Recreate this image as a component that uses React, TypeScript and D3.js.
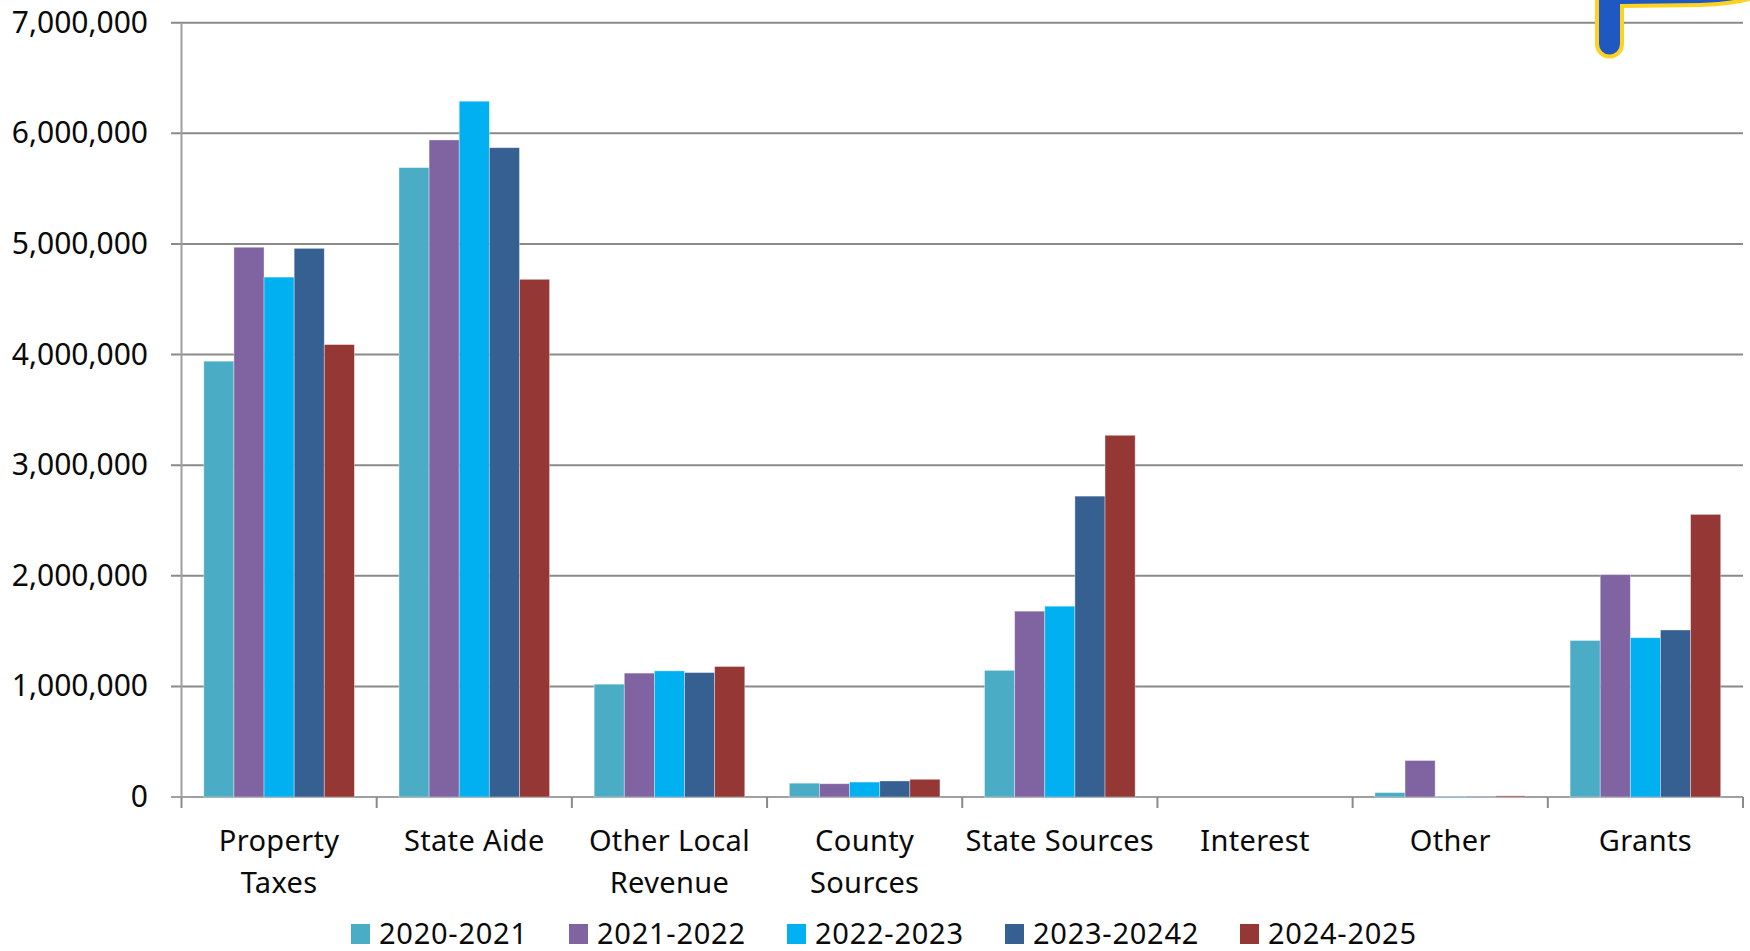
import React from "react";
import * as d3 from "d3";

const categories = ["Property Taxes", "State Aide", "Other Local Revenue", "County Sources", "State Sources", "Interest", "Other", "Grants"];
const categoryLines = [["Property", "Taxes"], ["State Aide"], ["Other Local", "Revenue"], ["County", "Sources"], ["State Sources"], ["Interest"], ["Other"], ["Grants"]];
const seriesNames = ["2020-2021", "2021-2022", "2022-2023", "2023-20242", "2024-2025"];
const seriesColors = ["#4BACC6", "#8064A2", "#00B0F0", "#366092", "#953735"];
const fy2021 = [3940000, 5690000, 1020000, 125000, 1145000, 0, 40000, 1415000];
const fy2122 = [4970000, 5940000, 1120000, 120000, 1680000, 0, 330000, 2010000];
const fy2223 = [4700000, 6290000, 1140000, 135000, 1725000, 0, 5000, 1440000];
const fy2324 = [4960000, 5870000, 1125000, 145000, 2720000, 0, 5000, 1510000];
const fy2425 = [4090000, 4680000, 1180000, 160000, 3270000, 0, 10000, 2555000];
const seriesValues = [fy2021, fy2122, fy2223, fy2324, fy2425];
const yTicks = [0, 1000000, 2000000, 3000000, 4000000, 5000000, 6000000, 7000000];
const legendX = [351, 569, 787, 1005, 1240];

const font = "'Noto Sans', sans-serif";

export default function App() {
  const y = d3.scaleLinear().domain([0, 7000000]).range([797, 22.7]);
  const x0 = d3.scaleBand<string>().domain(categories).range([181.5, 1743]);
  const x1 = d3.scaleBand<string>()
    .domain(seriesNames)
    .range([0, x0.bandwidth()])
    .paddingOuter(0.74)
    .paddingInner(0);
  const fmt = d3.format(",");
  const edges = categories.map((c) => x0(c) as number).concat(1743);

  return (
    <svg width={1750} height={951} style={{ position: "absolute", left: 0, top: 0, background: "#fff" }} fontFamily={font}>
      {yTicks.map((t) => (
        <g key={t}>
          <line x1={171} x2={1743} y1={y(t)} y2={y(t)} stroke={t === 0 ? "#a0a0a0" : "#8a8a8a"} strokeWidth={2} />
          <text x={148} y={y(t) + 10} textAnchor="end" fontSize={30} fill="#0a0a0a">{fmt(t)}</text>
        </g>
      ))}
      <line x1={181.5} x2={181.5} y1={22.7} y2={797} stroke="#a0a0a0" strokeWidth={2} />
      {edges.map((e, i) => (
        <line key={i} x1={e} x2={e} y1={797} y2={808} stroke="#8a8a8a" strokeWidth={2} />
      ))}
      {seriesNames.map((name, s) =>
        categories.map((c, i) => {
          const v = seriesValues[s][i];
          if (v === 0) return null;
          return (
            <rect
              key={name + c}
              x={(x0(c) as number) + (x1(name) as number)}
              y={y(v)}
              width={x1.bandwidth()}
              height={797 - y(v)}
              fill={seriesColors[s]}
              stroke="#ffffff"
              strokeOpacity={0.45}
              strokeWidth={0.8}
            />
          );
        })
      )}
      {categoryLines.map((lines, i) =>
        lines.map((l, j) => (
          <text
            key={l}
            x={(x0(categories[i]) as number) + x0.bandwidth() / 2}
            y={851 + j * 42}
            textAnchor="middle"
            fontSize={29}
            letterSpacing={0.35}
            fill="#0a0a0a"
          >
            {l}
          </text>
        ))
      )}
      {seriesNames.map((name, s) => (
        <g key={name}>
          <rect x={legendX[s]} y={924} width={19} height={20} fill={seriesColors[s]} />
          <text x={legendX[s] + 28} y={944} fontSize={29} letterSpacing={0.75} fill="#0a0a0a">{name}</text>
        </g>
      ))}
      {/* Pointer callout running off the top right corner */}
      <path
        d="M1597 -10 L1597 44 A12.5 12.5 0 0 0 1622 44 L1622 6 L1700 5 Q1735 4 1755 -3 L1755 -10 Z"
        fill="#1F57C3"
        stroke="#FFD21F"
        strokeWidth={4}
      />
    </svg>
  );
}
